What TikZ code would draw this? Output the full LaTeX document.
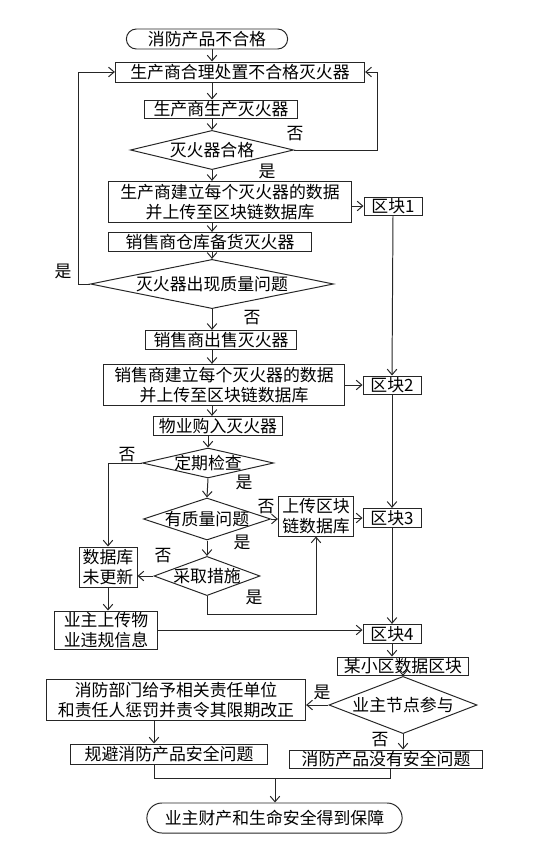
\documentclass[tikz,border=0pt]{standalone}
\usepackage{fontspec}
\newfontfamily\cjk{Noto Sans CJK SC}
\usetikzlibrary{shapes.geometric,shapes.misc,arrows.meta}

\begin{document}
\begin{tikzpicture}[
    x=0.025cm, y=-0.025cm,
    line width=0.7pt, color=black!85,
    every node/.style={font=\cjk\fontsize{12}{14.2}\selectfont, text=black},
    pnode/.style={draw, rectangle, inner sep=0pt, align=center},
    tnode/.style={draw, rounded rectangle, inner sep=0pt},
    dnode/.style={draw, diamond, inner sep=-2pt},
    arr/.style={-{Straight Barb[length=1.4mm,width=2.4mm]}}
]
    % --- manufacturer ---
    \node[tnode, minimum width=4.03cm, minimum height=0.5cm] (start) at (207, 39) {消防产品不合格};
    \node[pnode, minimum width=6.23cm, minimum height=0.5cm] (box1) at (240, 72) {生产商合理处置不合格灭火器};
    \node[pnode, minimum width=3.8cm, minimum height=0.45cm] (box2) at (221, 109) {生产商生产灭火器};
    \node[dnode, aspect=4.5, minimum width=4.08cm, minimum height=0.98cm] (dia1) at (212, 150) {灭火器合格};
    \node[pnode, minimum width=6.05cm, minimum height=1.03cm] (box3) at (230, 202) {生产商建立每个灭火器的数据\\并上传至区块链数据库};
    \node[pnode, minimum width=1.45cm, minimum height=0.45cm] (qk1) at (393, 206) {区块1};

    % --- seller ---
    \node[pnode, minimum width=5.05cm, minimum height=0.48cm] (box4) at (210, 242) {销售商仓库备货灭火器};
    \node[dnode, aspect=5.5, minimum width=6.08cm, minimum height=1.23cm] (dia2) at (212, 284) {灭火器出现质量问题};
    \node[pnode, minimum width=3.78cm, minimum height=0.48cm] (box5) at (221, 340) {销售商出售灭火器};
    \node[pnode, minimum width=6.0cm, minimum height=1.03cm] (box6) at (224, 385) {销售商建立每个灭火器的数据\\并上传至区块链数据库};
    \node[pnode, minimum width=1.45cm, minimum height=0.45cm] (qk2) at (392, 385) {区块2};

    % --- property ---
    \node[pnode, minimum width=3.23cm, minimum height=0.48cm] (box7) at (218, 426) {物业购入灭火器};
    \node[dnode, aspect=4.4, minimum width=3.28cm, minimum height=0.75cm] (dia3) at (208, 463) {定期检查};
    \node[dnode, aspect=3.1, minimum width=3.18cm, minimum height=1.05cm] (dia4) at (207, 519) {有质量问题};
    \node[pnode, minimum width=1.88cm, minimum height=1.0cm] (up) at (316, 516) {上传区块\\链数据库};
    \node[pnode, minimum width=1.45cm, minimum height=0.48cm] (qk3) at (392, 518) {区块3};
    \node[dnode, aspect=2.8, minimum width=2.65cm, minimum height=0.98cm] (dia5) at (207, 576) {采取措施};
    \node[pnode, minimum width=1.45cm, minimum height=1.0cm] (db) at (108, 567) {数据库\\未更新};
    \node[pnode, minimum width=2.58cm, minimum height=0.95cm] (owner) at (106, 630) {业主上传物\\业违规信息};
    \node[pnode, minimum width=1.45cm, minimum height=0.48cm] (qk4) at (392, 634) {区块4};

    % --- community ---
    \node[pnode, minimum width=3.28cm, minimum height=0.45cm] (cell) at (403, 666) {某小区数据区块};
    \node[dnode, aspect=3, minimum width=3.7cm, minimum height=1.43cm] (dia6) at (403, 705) {业主节点参与};
    \node[pnode, minimum width=6.48cm, minimum height=1.03cm] (fire) at (176, 700) {消防部门给予相关责任单位\\和责任人惩罚并责令其限期改正};
    \node[pnode, minimum width=4.9cm, minimum height=0.5cm] (avoid) at (169, 754) {规避消防产品安全问题};
    \node[pnode, minimum width=4.83cm, minimum height=0.45cm] (no) at (386, 759) {消防产品没有安全问题};
    \node[tnode, minimum width=6.38cm, minimum height=0.75cm] (end) at (274.5, 818) {业主财产和生命安全得到保障};

    % --- labels ---
    \node (l1) at (295, 134) {否};
    \node (l2) at (267, 171) {是};
    \node (l3) at (63, 271) {是};
    \node (l4) at (252, 318) {否};
    \node (l5) at (127, 455) {否};
    \node (l6) at (244, 482) {是};
    \node (l7) at (266, 507) {否};
    \node (l8) at (242, 542) {是};
    \node (l9) at (163, 556) {否};
    \node (l10) at (254, 597) {是};
    \node (l11) at (322, 692) {是};
    \node (l12) at (380, 740) {否};

    % --- helper points ---
    \coordinate (fb1) at (377, 72);
    \coordinate (fb2) at (78, 72);
    \coordinate (jl) at (154, 778);
    \coordinate (jm) at (275, 778);
    \coordinate (jr) at (390, 778);

    % --- connectors ---
    \draw[arr] (start.south -| dia1) -- (box1.north -| dia1);
    \draw[arr] (box1.south -| dia1) -- (box2.north -| dia1);
    \draw[arr] (box2.south -| dia1) -- (dia1.north);
    \draw[arr] (dia1.south) -- (box3.north -| dia1);
    \draw[arr] (dia1.east) -| (fb1) -- (box1.east);
    \draw[arr] (box3.south -| dia1) -- (box4.north -| dia1);
    \draw[arr] (box3.east |- qk1) -- (qk1.west);
    \draw[arr] (box4.south -| dia2) -- (dia2.north);
    \draw[arr] (dia2.west) -| (fb2) -- (box1.west);
    \draw[arr] (dia2.south) -- (box5.north -| dia2);
    \draw[arr] (box5.south -| dia2) -- (box6.north -| dia2);
    \draw[arr] (box6.east) -- (box6.east -| qk2.west);
    \draw[arr] (box6.south -| dia2) -- (box7.north -| dia2);
    \draw[arr] (box7.south -| dia3) -- (dia3.north);
    \draw[arr] (qk1.south) -- (qk2.north);
    \draw[arr] (qk2.south) -- (qk3.north);
    \draw[arr] (qk3.south) -- (qk4.north);
    \draw[arr] (qk4.south) -- (qk4.south |- cell.north);
    \draw[arr] (dia3.west) -| (db.north);
    \draw[arr] (dia3.south) -- (dia4.north);
    \draw[arr] (dia4.east) -- (dia4.east -| up.west);
    \draw[arr] (up.east |- qk3) -- (qk3.west);
    \draw[arr] (dia4.south) -- (dia5.north);
    \draw[arr] (dia5.west) -- (dia5.west -| db.east);
    \draw[arr] (dia5.south) -- ++(0, 18) -| (up.south);
    \draw[arr] (db.south) -- (db.south |- owner.north);
    \draw[arr] (owner.east) -- (owner.east -| qk4.west);
    \draw[arr] (cell.south) -- (dia6.north);
    \draw[arr] (dia6.west) -- (dia6.west -| fire.east);
    \draw[arr] (dia6.south) -- (dia6.south |- no.north);
    \draw[arr] (fire.south -| jl) -- (avoid.north -| jl);
    \draw (avoid.south -| jl) -- (jl) -- (jr) -- (no.south -| jr);
    \draw[arr] (jm) -- (end.north -| jm);

    \useasboundingbox (0, 0) rectangle (536, 846);
\end{tikzpicture}
\end{document}
